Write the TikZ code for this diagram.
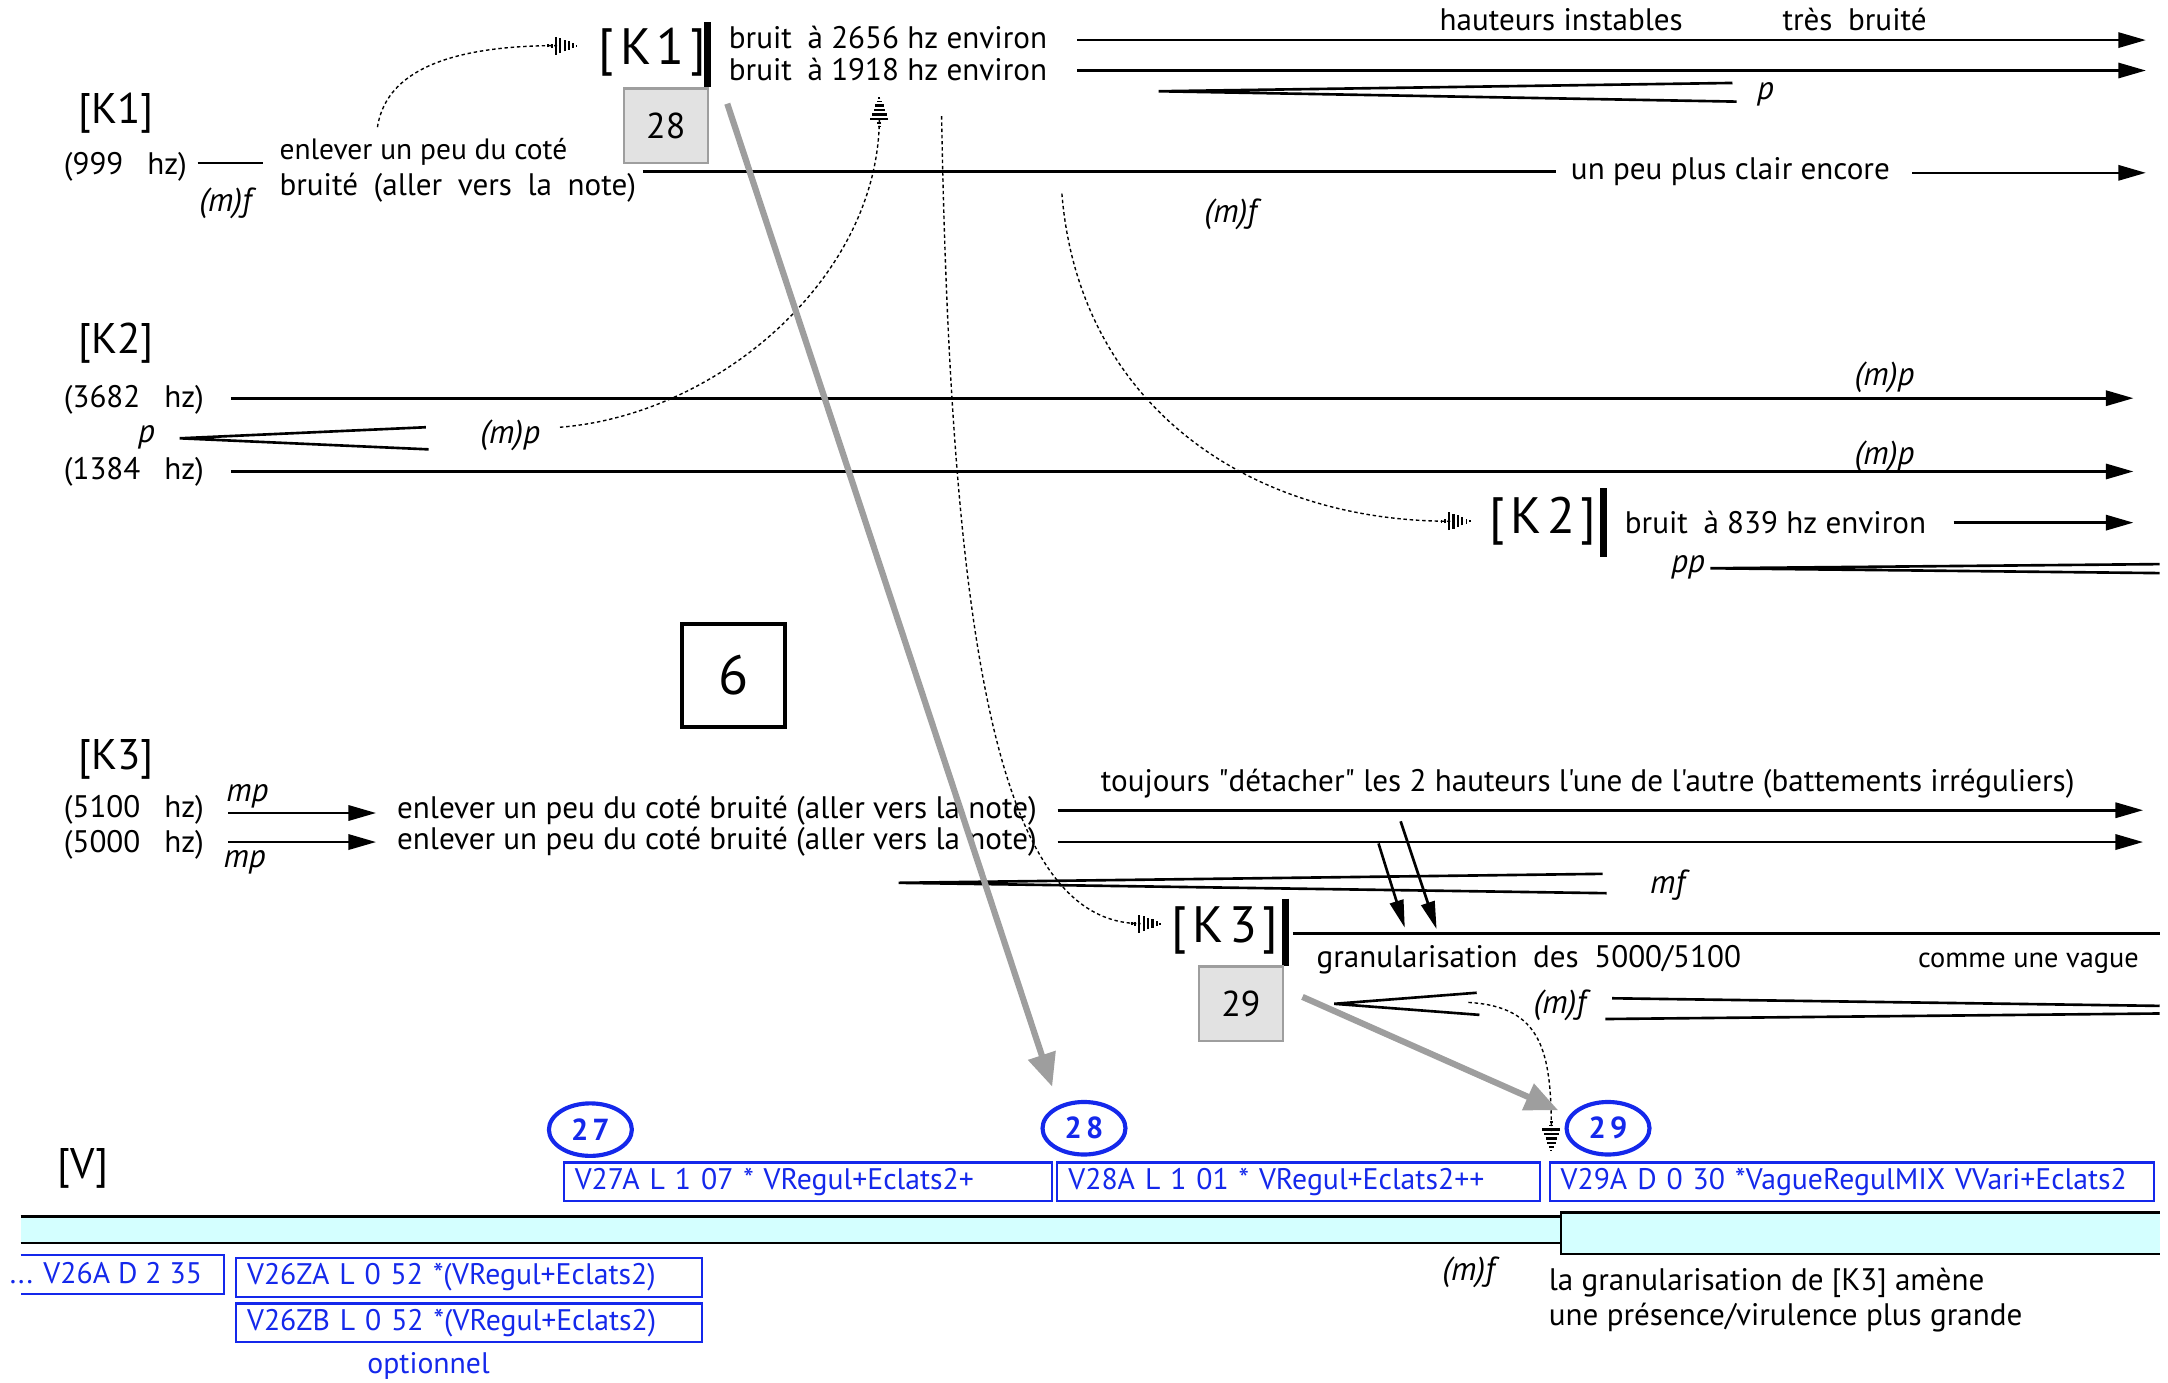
\documentclass[tikz,border=0pt]{standalone}
\usepackage{fontspec}
\setmainfont{PT Sans}[Ligatures=TeXOff]
\usetikzlibrary{arrows.meta,shapes.geometric}
\definecolor{vblue}{RGB}{20,40,235}
\definecolor{vcyan}{RGB}{212,255,255}
\definecolor{boxgray}{RGB}{226,226,226}
\definecolor{edgegray}{RGB}{158,158,158}
\pgfdeclarearrow{
  name = StripeTip,
  setup code = {
    \pgfarrowssettipend{0pt}
    \pgfarrowssetlineend{-15pt}
    \pgfarrowssetbackend{-22pt}
    \pgfarrowssetvisualbackend{-22pt}
    \pgfarrowshullpoint{0pt}{0pt}
    \pgfarrowshullpoint{-16pt}{7pt}
    \pgfarrowshullpoint{-16pt}{-7pt}
    \pgfarrowshullpoint{-22pt}{0pt}
  },
  drawing code = {
    \pgfsetdash{}{0pt}
    \pgfsetbuttcap
    \pgfsetlinewidth{1.2pt}
    \pgfpathmoveto{\pgfqpoint{-21.5pt}{-1.2pt}}\pgfpathlineto{\pgfqpoint{-21.5pt}{1.2pt}}
    \pgfpathmoveto{\pgfqpoint{-19pt}{-1.4pt}}\pgfpathlineto{\pgfqpoint{-19pt}{1.4pt}}
    \pgfusepathqstroke
    \pgfsetlinewidth{1.7pt}
    \pgfpathmoveto{\pgfqpoint{-16pt}{-6.5pt}}\pgfpathlineto{\pgfqpoint{-16pt}{6.5pt}}
    \pgfpathmoveto{\pgfqpoint{-12.8pt}{-5.4pt}}\pgfpathlineto{\pgfqpoint{-12.8pt}{5.4pt}}
    \pgfpathmoveto{\pgfqpoint{-9.6pt}{-4.2pt}}\pgfpathlineto{\pgfqpoint{-9.6pt}{4.2pt}}
    \pgfpathmoveto{\pgfqpoint{-6.4pt}{-3pt}}\pgfpathlineto{\pgfqpoint{-6.4pt}{3pt}}
    \pgfusepathqstroke
    \pgfsetlinewidth{1.2pt}
    \pgfpathmoveto{\pgfqpoint{-3.4pt}{-1.8pt}}\pgfpathlineto{\pgfqpoint{-3.4pt}{1.8pt}}
    \pgfpathmoveto{\pgfqpoint{-1pt}{-0.7pt}}\pgfpathlineto{\pgfqpoint{-1pt}{0.7pt}}
    \pgfusepathqstroke
  }
}
\begin{document}
\begin{tikzpicture}[x=1pt,y=-1pt,
  txt/.style={inner sep=0pt, anchor=west, font=\fontsize{22.5}{25}\selectfont},
  ntxt/.style={inner sep=0pt, anchor=west, font=\fontsize{21.3}{24}\selectfont},
  dyn/.style={inner sep=0pt, font=\fontsize{24}{27}\selectfont\itshape},
  lab/.style={inner sep=0pt, font=\fontsize{31}{34}\selectfont},
  bigk/.style={inner sep=0pt, anchor=west, font=\fontsize{37}{40}\selectfont},
  ln/.style={line width=1.9pt},
  arr/.style={line width=1.9pt, -{Triangle[length=20pt,width=11pt]}},
  dots/.style={line width=1pt, dash pattern=on 2.5pt off 2pt},
  striped/.style={-StripeTip},
  kbar/.style={line width=5pt},
  numbox/.style={draw=edgegray, fill=boxgray, line width=1.5pt, minimum width=61pt, minimum height=54pt, inner sep=0pt, font=\fontsize{26}{29}\selectfont},
  vbox/.style={draw=vblue, line width=1.5pt, text=vblue, anchor=north west, inner ysep=0pt, inner xsep=8pt, align=left, minimum height=28pt, font=\fontsize{21.5}{24}\selectfont},
  vtxt/.style={inner sep=0pt, text=vblue, font=\fontsize{21.5}{24}\selectfont},
  vcirc/.style={draw=vblue, ellipse, line width=3pt, text=vblue, minimum width=60pt, minimum height=38pt, inner sep=0pt, font=\fontsize{22}{24}\selectfont\bfseries},
  grayarr/.style={draw=edgegray, line width=4.5pt, -{Triangle[length=24pt,width=20pt]}, color=edgegray}
]
\useasboundingbox (0,0) rectangle (1568,1000);

% ---------- K1 ----------
\node[lab] (k1l) at (84,82) {[K1]};
\node[txt] (f999) at (46,121) {(999\enspace\ hz)};
\coordinate (l999a) at (143,118); \coordinate (l999b) at (190,118);
\draw[ln] (l999a) -- (l999b);
\node[dyn] (mf1) at (163,147) {(m)f};
\node[ntxt] (enl1) at (202,110) {enlever un peu du coté};
\node[txt] (enl2) at (202,136) {bruité\enspace(aller\enspace vers\enspace la\enspace note)};

\node[bigk] (K1) at (433,38) {[\kern4pt K\kern4pt 1\kern4pt]};
\coordinate (k1bt) at (512,16); \coordinate (k1bb) at (512,63);
\draw[kbar] (k1bt) -- (k1bb);
\node[numbox] (b28) at (481.5,91) {28};

\node[txt] (br1) at (527,27) {bruit\enspace à 2656 hz environ};
\node[txt] (br2) at (527,50) {bruit\enspace à 1918 hz environ};
\coordinate (a1s) at (779,29); \coordinate (a1e) at (1552,29);
\coordinate (a2s) at (779,51); \coordinate (a2e) at (1552,51);
\draw[arr] (a1s) -- (a1e);
\draw[arr] (a2s) -- (a2e);
\node[txt] (haut) at (1041,14) {hauteurs instables};
\node[txt] (tres) at (1289,14) {très\enspace bruité};
\coordinate (hp1) at (838,66); \coordinate (hp1a) at (1253,60); \coordinate (hp1b) at (1256,73.5);
\draw[ln] (hp1a) -- (hp1) -- (hp1b);
\node[dyn] (p1) at (1277,68) {p};
\coordinate (c1s) at (465,124); \coordinate (c1e) at (1125,124);
\draw[ln] (c1s) -- (c1e);
\node[txt] (clair) at (1136,124) {un peu plus clair encore};
\coordinate (c2s) at (1383,125); \coordinate (c2e) at (1552,125);
\draw[arr] (c2s) -- (c2e);
\node[dyn] (mf2) at (890,155) {(m)f};

% ---------- K2 ----------
\node[lab] (k2l) at (84,248) {[K2]};
\node[txt] (f3682) at (46,289) {(3682\enspace\ hz)};
\coordinate (d1s) at (167,288); \coordinate (d1e) at (1543,288);
\draw[arr] (d1s) -- (d1e);
\node[dyn] (mp1) at (1363,273) {(m)p};
\node[dyn] (p2) at (106,316) {p};
\coordinate (hp2) at (130,317); \coordinate (hp2a) at (308,309); \coordinate (hp2b) at (310,325);
\draw[ln] (hp2a) -- (hp2) -- (hp2b);
\node[dyn] (mp2) at (369,315) {(m)p};
\node[txt] (f1384) at (46,341) {(1384\enspace\ hz)};
\coordinate (d2s) at (167,341); \coordinate (d2e) at (1543,341);
\draw[arr] (d2s) -- (d2e);
\node[dyn] (mp3) at (1363,330) {(m)p};

\node[bigk] (K2) at (1077,377) {[\kern4pt K\kern4pt 2\kern4pt]};
\coordinate (k2bt) at (1160,353); \coordinate (k2bb) at (1160,403);
\draw[kbar] (k2bt) -- (k2bb);
\node[txt] (br3) at (1175,378) {bruit\enspace à 839 hz environ};
\coordinate (e1s) at (1413,378); \coordinate (e1e) at (1543,378);
\draw[arr] (e1s) -- (e1e);
\node[dyn] (pp) at (1221,410) {pp};
\coordinate (hp3) at (1237,411); \coordinate (hp3a) at (1562,408); \coordinate (hp3b) at (1562,414.5);
\draw[ln] (hp3a) -- (hp3) -- (hp3b);

\node[draw, line width=3pt, minimum size=75pt, inner sep=0pt, font=\fontsize{40}{44}\selectfont] (six) at (530.5,488.5) {6};

% ---------- K3 ----------
\node[lab] (k3l) at (84,549) {[K3]};
\node[txt] (f5100) at (46,586) {(5100\enspace\ hz)};
\node[txt] (f5000) at (46,611) {(5000\enspace\ hz)};
\node[dyn] (mp4) at (179,576) {mp};
\node[dyn] (mp5) at (177,624) {mp};
\coordinate (g1s) at (165,588); \coordinate (g1e) at (272,588);
\coordinate (g2s) at (165,609); \coordinate (g2e) at (272,609);
\draw[arr] (g1s) -- (g1e);
\draw[arr] (g2s) -- (g2e);
\node[txt] (enl3) at (287,586) {enlever un peu du coté bruité (aller vers la note)};
\node[txt] (enl4) at (287,609) {enlever un peu du coté bruité (aller vers la note)};
\node[txt] (touj) at (796,567) {toujours "détacher" les 2 hauteurs l'une de l'autre (battements irréguliers)};
\coordinate (h1s) at (765,586); \coordinate (h1e) at (1550,586);
\coordinate (h2s) at (765,609); \coordinate (h2e) at (1550,609);
\draw[arr] (h1s) -- (h1e);
\draw[arr] (h2s) -- (h2e);
\coordinate (hp4) at (650,638.5); \coordinate (hp4a) at (1159,632); \coordinate (hp4b) at (1162,646);
\draw[ln] (hp4a) -- (hp4) -- (hp4b);
\node[dyn] (mf3) at (1206,640) {mf};
\coordinate (j1s) at (997,610); \coordinate (j1e) at (1016,671);
\coordinate (j2s) at (1013,594); \coordinate (j2e) at (1039,672);
\draw[line width=1.9pt, -{Triangle[length=20pt,width=10pt]}] (j1s) -- (j1e);
\draw[line width=1.9pt, -{Triangle[length=20pt,width=10pt]}] (j2s) -- (j2e);

\node[bigk] (K3) at (847,673) {[\kern4pt K\kern4pt 3\kern4pt]};
\coordinate (k3bt) at (930,650); \coordinate (k3bb) at (930,699);
\draw[kbar] (k3bt) -- (k3bb);
\coordinate (m1s) at (935,675); \coordinate (m1e) at (1562,675);
\draw[ln] (m1s) -- (m1e);
\node[txt] (gran) at (952,694) {granularisation\enspace des\enspace 5000/5100};
\node[ntxt, font=\fontsize{20.5}{23}\selectfont] (vague) at (1387,697) {comme une vague};
\node[numbox] (b29) at (897.5,726) {29};
\coordinate (hp5) at (965,726); \coordinate (hp5a) at (1068,718); \coordinate (hp5b) at (1070,734);
\draw[ln] (hp5a) -- (hp5) -- (hp5b);
\node[dyn] (mf4) at (1128,727) {(m)f};
\coordinate (hp6a) at (1166,722); \coordinate (hp6b) at (1161,737);
\coordinate (hp6c) at (1562,727.5); \coordinate (hp6d) at (1562,733);
\draw[ln] (hp6a) -- (hp6c);
\draw[ln] (hp6b) -- (hp6d);

% ---------- dotted transitions ----------
\coordinate (t1s) at (273,92); \coordinate (t1e) at (418,33);
\draw[dots, striped] (t1s) .. controls (280,45) and (340,33) .. (t1e);
\coordinate (t2s) at (405,309); \coordinate (t2e) at (636,70);
\draw[dots, striped] (t2s) .. controls (520,300) and (636,200) .. (t2e);
\coordinate (t3s) at (681,84); \coordinate (t3e) at (840,668);
\draw[dots, striped] (t3s) .. controls (688,480) and (725,668) .. (t3e);
\coordinate (t4s) at (768,140); \coordinate (t4e) at (1064,377);
\draw[dots, striped] (t4s) .. controls (780,290) and (900,377) .. (t4e);
\coordinate (t5s) at (1062,725); \coordinate (t5e) at (1122,833);
\draw[dots, striped] (t5s) .. controls (1115,728) and (1122,760) .. (t5e);

% ---------- V ----------
\node[lab] (vl) at (60,845) {[V]};
\node[vcirc] (c27) at (427,817) {2\kern3pt 7};
\node[vcirc] (c28) at (784,816) {2\kern3pt 8};
\node[vcirc] (c29) at (1163,816) {2\kern3pt 9};
\node[vbox, text width=337pt] (v27) at (407,840) {V27A L 1 07 * VRegul+Eclats2+};
\node[vbox, text width=333pt] (v28) at (764,840) {V28A L 1 01 * VRegul+Eclats2++};
\node[vbox, text width=421pt] (v29) at (1120,840) {V29A D 0 30 *VagueRegulMIX VVari+Eclats2};

\fill[vcyan] (15,880) rectangle (1129,899);
\draw[ln] (15,880) -- (1129,880);
\draw[ln] (15,899) -- (1129,899);
\draw[ln, fill=vcyan] (1562,877) -- (1129,877) -- (1129,907) -- (1562,907);

\coordinate (g28s) at (526,75); \coordinate (g28e) at (761,786);
\draw[grayarr] (g28s) -- (g28e);
\coordinate (g29s) at (942,721); \coordinate (g29e) at (1127,803);
\draw[grayarr] (g29s) -- (g29e);

\draw[vblue, line width=1.5pt] (15,908) -- (162,908) -- (162,936) -- (15,936);
\node[vtxt, anchor=west] (v26) at (7,921) {... V26A D 2 35};
\node[vbox, text width=321pt] (v26za) at (170,909) {V26ZA L 0 52 *(VRegul+Eclats2)};
\node[vbox, text width=321pt] (v26zb) at (170,942) {V26ZB L 0 52 *(VRegul+Eclats2)};
\node[vtxt] (opt) at (310,988) {optionnel};
\node[dyn] (mf5) at (1062,920) {(m)f};
\node[txt] (lag1) at (1120,928) {la granularisation de [K3] amène};
\node[txt] (lag2) at (1120,953) {une présence/virulence plus grande};
\end{tikzpicture}
\end{document}
